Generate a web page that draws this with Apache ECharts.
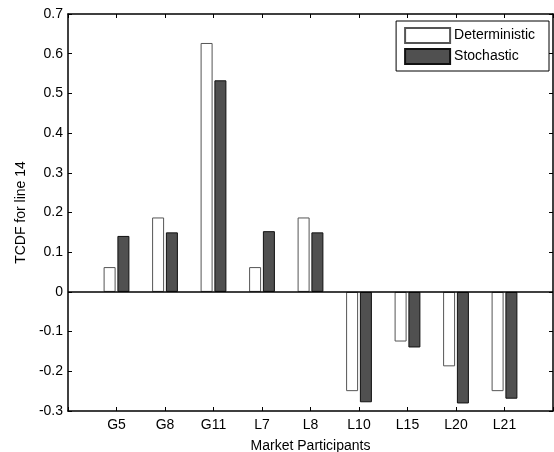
<!DOCTYPE html>
<html>
<head>
<meta charset="utf-8">
<script src="https://cdn.jsdelivr.net/npm/echarts@6/dist/echarts.min.js"></script>
<style>
  html, body { margin: 0; padding: 0; background: #fff; }
  #main { width: 554px; height: 452px; }
</style>
</head>
<body>
<div id="main"></div>
<script>
var participants = ['G5', 'G8', 'G11', 'L7', 'L8', 'L10', 'L15', 'L20', 'L21'];
var deterministic = [0.0625, 0.1875, 0.627, 0.0625, 0.1875, -0.25, -0.125, -0.1875, -0.25];
var stochastic = [0.141, 0.15, 0.533, 0.153, 0.15, -0.278, -0.14, -0.281, -0.269];

var chart = echarts.init(document.getElementById('main'));

function pairs(vals) {
    return vals.map(function (v, i) { return [i + 1, v]; });
}

var tickStyle = { show: true, inside: true, length: 4, lineStyle: { color: '#000' } };
var font = 'Liberation Sans, Arial, sans-serif';

var option = {
    animation: false,
    textStyle: { fontFamily: font },
    grid: { left: 68, right: 1, top: 14, bottom: 41, outerBoundsMode: 'none', containLabel: false },
    legend: {
        right: 5, top: 21,
        orient: 'vertical',
        icon: 'rect',
        itemWidth: 45, itemHeight: 15, itemGap: 4,
        padding: [6, 14, 6, 8],
        borderColor: '#000', borderWidth: 1,
        backgroundColor: '#fff',
        textStyle: { fontSize: 14, color: '#000', fontFamily: font, padding: [0, 0, 0, -1] },
        data: ['Deterministic', 'Stochastic']
    },
    xAxis: [{
        type: 'value', min: 0, max: 10, interval: 1, position: 'bottom',
        name: 'Market Participants', nameLocation: 'middle', nameGap: 28,
        nameTextStyle: { fontSize: 14, color: '#000' },
        axisLine: { onZero: false, lineStyle: { color: '#000', width: 1.5 } },
        axisTick: tickStyle,
        splitLine: { show: false },
        axisLabel: {
            color: '#000', fontSize: 14, margin: 7,
            formatter: function (v) { return participants[v - 1] || ''; }
        }
    }, {
        type: 'value', min: 0, max: 10, interval: 1, position: 'top',
        axisLine: { onZero: false, lineStyle: { color: '#000', width: 1.5 } },
        axisTick: tickStyle,
        splitLine: { show: false },
        axisLabel: { show: false }
    }],
    yAxis: [{
        type: 'value', min: -0.3, max: 0.7, interval: 0.1, position: 'left',
        name: 'TCDF for line 14', nameLocation: 'middle', nameGap: 38,
        nameTextStyle: { fontSize: 14, color: '#000' },
        axisLine: { show: true, onZero: false, lineStyle: { color: '#000', width: 1.5 } },
        axisTick: tickStyle,
        splitLine: { show: false },
        axisLabel: {
            color: '#000', fontSize: 14, margin: 5,
            formatter: function (v) { return v === 0 ? '0' : String(Math.round(v * 10) / 10); }
        }
    }, {
        type: 'value', min: -0.3, max: 0.7, interval: 0.1, position: 'right',
        axisLine: { show: true, onZero: false, lineStyle: { color: '#000', width: 1.5 } },
        axisTick: tickStyle,
        splitLine: { show: false },
        axisLabel: { show: false }
    }],
    series: [{
        name: 'Deterministic', type: 'bar',
        data: pairs(deterministic),
        barWidth: 12, barGap: '15%',
        itemStyle: { color: '#fff', borderColor: '#555', borderWidth: 1 },
        markLine: {
            silent: true, symbol: 'none', label: { show: false },
            lineStyle: { color: '#000', width: 1.5, type: 'solid' },
            data: [{ yAxis: 0 }]
        }
    }, {
        name: 'Stochastic', type: 'bar',
        data: pairs(stochastic),
        barWidth: 12, barGap: '15%',
        itemStyle: { color: '#505050', borderColor: '#111', borderWidth: 1 }
    }]
};

chart.setOption(option);
</script>
</body>
</html>
